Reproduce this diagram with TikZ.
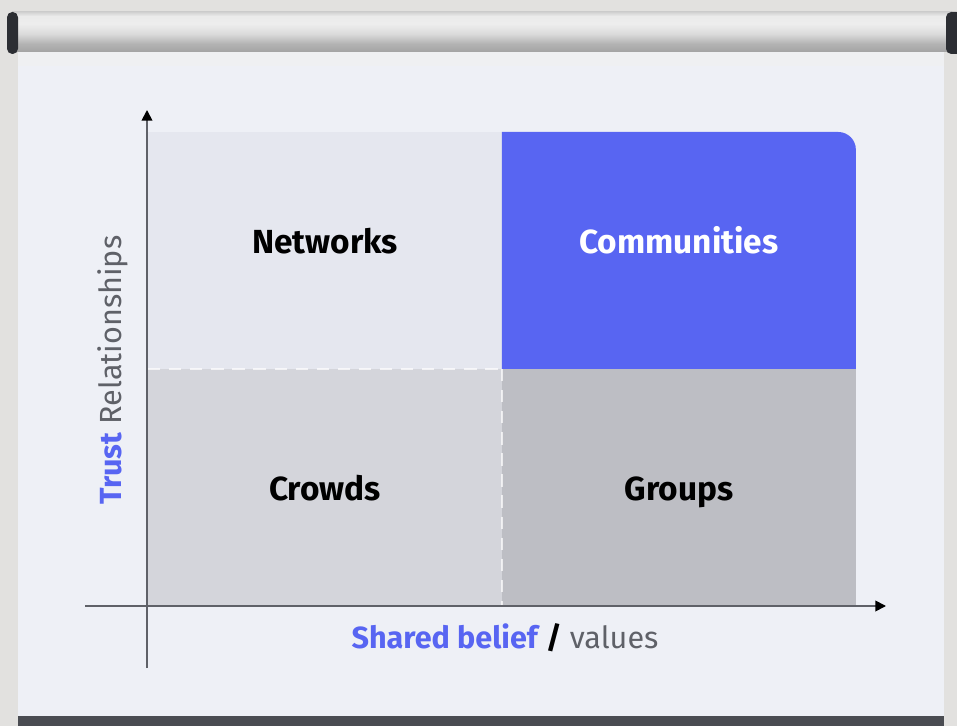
\documentclass[tikz,border=0pt]{standalone}
\usepackage{fontspec}
\setmainfont{Fira Sans}
\usetikzlibrary{arrows.meta,positioning}
\definecolor{blurple}{RGB}{88,101,242}
\definecolor{wall}{RGB}{226,225,223}
\definecolor{paper}{RGB}{238,240,246}
\definecolor{cellA}{RGB}{229,231,239}
\definecolor{cellC}{RGB}{212,213,219}
\definecolor{cellD}{RGB}{189,190,196}
\definecolor{capgray}{RGB}{44,46,51}
\definecolor{stripgray}{RGB}{74,76,82}
\definecolor{labelgray}{RGB}{95,97,104}
% silver roller bar (path covers 25bp..75bp)
\pgfdeclareverticalshading{roller}{100bp}{
  color(0bp)=(black!40!white);
  color(25bp)=(black!36!white);
  color(35bp)=(black!30!white);
  color(48bp)=(black!14!white);
  color(60bp)=(black!7!white);
  color(70bp)=(black!8!white);
  color(75bp)=(black!18!white);
  color(100bp)=(black!18!white)}
\tikzset{
    %Define standard arrow tip
    >={Triangle[width=6pt,length=6pt,color=black]},
    %Define style for the four cells
    cell/.style={
           rectangle,
           inner sep=0pt, outer sep=0pt,
           minimum width=7.08cm,
           minimum height=4.74cm},
    celltext/.style={
           font=\fontsize{19}{22}\selectfont\bfseries,
           text height=0.72em, text depth=0.22em,
           text centered},
    % separators between cells
    sep/.style={
           white, opacity=0.7,
           dashed, dash pattern=on 7pt off 5pt,
           line width=0.8pt},
    % axis style
    axis/.style={
           ->,
           draw=labelgray,
           line width=1pt},
    axislabel/.style={
           font=\fontsize{17.4}{20}\selectfont,
           text=labelgray}
}
\begin{document}
\begin{tikzpicture}[x=0.02cm,y=-0.02cm]
\useasboundingbox (0,0) rectangle (957,726);
 %wall and paper
\fill[wall] (0,0) rectangle (957,726);
\fill[paper] (18,40) rectangle (944,726);
\fill[black!6,opacity=0.6] (18,52) rectangle (944,66);
\fill[stripgray] (18,716) rectangle (944,726);
 %roller
\shade[shading=roller] (12,12) rectangle (952,52);
\fill[capgray,rounded corners=3pt] (7,12) rectangle (18,54);
\fill[capgray,rounded corners=3pt] (946,12) rectangle (962,54);
 %cells
\node[cell, fill=cellA, anchor=north west](networks) at (148,132){};
\node[cell, right=0pt of networks](communities){};
\node[cell, below=0pt of networks, fill=cellC](crowds){};
\node[cell, right=0pt of crowds, fill=cellD](groups){};
\fill[blurple] (communities.south west) -- (communities.north west)
    [rounded corners=10pt]-- (communities.north east)
    [sharp corners]-- (communities.south east) -- cycle;
\draw[sep] (networks.south west) -- (networks.south east);
\draw[sep] (crowds.north east) -- (crowds.south east);
\node[celltext](networkslabel) at ([yshift=1pt]networks.center){Networks};
\node[celltext, text=white](communitieslabel) at ([yshift=1pt]communities.center){Communities};
\node[celltext](crowdslabel) at ([yshift=-5pt]crowds.center){Crowds};
\node[celltext](groupslabel) at ([yshift=-5pt]groups.center){Groups};
 %axes
\coordinate (ybase) at (147,668);
\coordinate (ytip) at (147,110);
\coordinate (xbase) at (85,606);
\coordinate (xtip) at (886,606);
\draw[axis] (ybase) -- (ytip);
\draw[axis] (xbase) -- (xtip);
\node[axislabel](xlabel) at (505,638){\textcolor{blurple}{\bfseries Shared belief} \textcolor{black}{\bfseries/} values};
\node[axislabel, rotate=90](ylabel) at (113,370){\textcolor{blurple}{\bfseries Trust} Relationships};
\end{tikzpicture}
\end{document}
